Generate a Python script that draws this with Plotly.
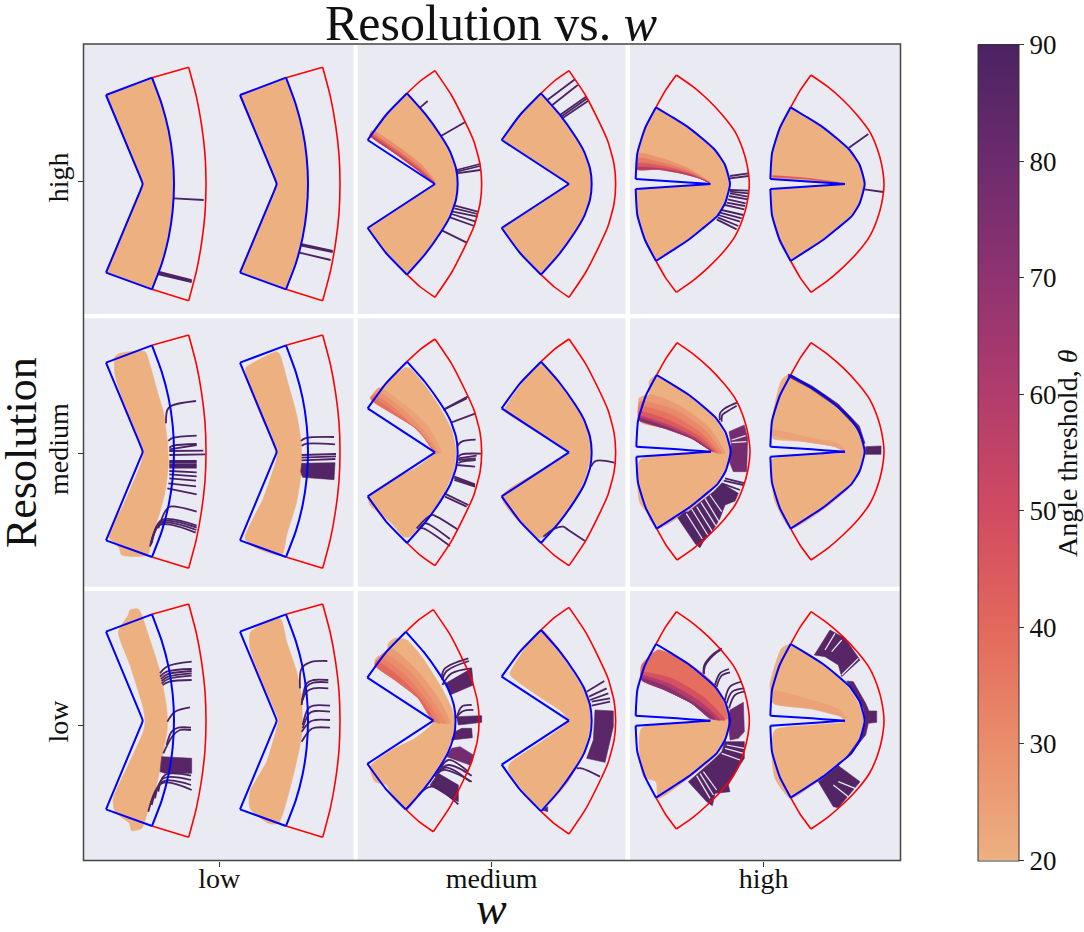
import plotly.graph_objects as go
from plotly.colors import sample_colorscale
from plotly.subplots import make_subplots

WIDTH, HEIGHT = 1084, 932

rows_res = ["high", "medium", "low"]
cols_w = ["low", "medium", "high"]
theta_ticks = [20, 30, 40, 50, 60, 70, 80, 90]
flare = ["#edb081", "#e98d6b", "#e3685c", "#d14a61", "#b13c6c", "#8f3371", "#6c2b6d", "#4b2362"]

# outlines, relative to the notch tip of each shape, one list per smooth stretch
red_low = [[(28, -319), (138, -350)],
           [(138, -350), (161, -263), (177, -175), (187, -88), (190, 0), (187, 88), (177, 175), (161, 263), (138, 350)],
           [(138, 350), (28, 316)]]
blue_low = [[(-110, -267), (28, -319)],
            [(28, -319), (57, -240), (78, -160), (90, -80), (94, 0), (90, 80), (78, 160), (57, 240), (28, 316)],
            [(28, 316), (-110, 266)],
            [(-110, 266), (-8, 22), (0, 0), (-8, -22), (-110, -267)]]
red_med = [[(-84, -272), (-44, -309), (0, -340)],
           [(0, -340), (49, -267), (90, -187), (117, -127), (135, -60), (140, 0), (135, 60), (117, 127), (90, 187), (49, 267), (0, 340)],
           [(0, 340), (-44, 309), (-84, 272)]]
blue_med = [[(-202, -132), (-147, -207), (-84, -272)],
            [(-84, -272), (-30, -211), (18, -144), (45, -98), (63, -47), (68, 0), (63, 47), (45, 98), (18, 144), (-30, 211), (-84, 272)],
            [(-84, 272), (-147, 207), (-202, 132)],
            [(-202, 132), (0, 0)],
            [(0, 0), (-202, -132)]]
red_high = [[(-163, -230), (-135, -280), (-102, -327)],
            [(-102, -327), (-52, -292), (-6, -252), (38, -205), (74, -157), (97, -105), (110, -58), (117, 0), (110, 58), (97, 105), (74, 157), (38, 205), (-6, 250), (-52, 290), (-102, 325)],
            [(-102, 325), (-135, 280), (-163, 231)]]
blue_high = [[(-224, -15), (-219, -92), (-196, -167), (-163, -230)],
             [(-163, -230), (-115, -201), (-66, -170), (-25, -137), (14, -102), (44, -57), (59, 0), (44, 58), (19, 98), (-25, 135), (-66, 168), (-115, 200), (-163, 231)],
             [(-163, 231), (-196, 168), (-219, 93), (-224, 15)],
             [(-224, 15), (-100, 7), (-30, 2), (0, 0)],
             [(0, 0), (-30, -2), (-100, -7), (-224, -15)]]

# orange regions, panel crop units
orange_hm_a = [(45, 285), (93, 225), (156, 160), (210, 221), (258, 288), (285, 334), (303, 385), (308, 432), (303, 479), (285, 530), (258, 576), (210, 643), (156, 704), (93, 639), (38, 563), (240, 432), (190, 392), (120, 340)]
orange_hh_a = [(36, 388), (38, 340), (60, 265), (93, 202), (141, 231), (190, 262), (231, 295), (270, 330), (300, 375), (315, 432), (300, 490), (275, 530), (231, 567), (190, 600), (141, 632), (93, 663), (60, 600), (37, 525), (32, 447), (150, 439), (226, 434), (256, 432), (225, 415), (170, 400), (100, 388)]
orange_ml_a = [(105, 125), (120, 115), (195, 110), (210, 150), (235, 240), (250, 290), (262, 380), (265, 450), (255, 530), (240, 590), (215, 670), (203, 720), (125, 720), (118, 700), (100, 680), (85, 665), (130, 570), (185, 440), (190, 410), (180, 380), (130, 260), (105, 180)]
orange_ml_b = [(500, 155), (590, 110), (600, 120), (620, 190), (650, 300), (663, 380), (665, 460), (650, 560), (620, 660), (605, 720), (530, 700), (495, 670), (550, 550), (590, 430), (590, 405), (550, 320), (500, 190), (497, 160)]
orange_mm_a = [(150, 158), (165, 160), (205, 205), (250, 270), (290, 345), (303, 410), (295, 470), (262, 545), (215, 610), (165, 665), (145, 665), (110, 625), (55, 580), (45, 570), (40, 545), (110, 495), (180, 460), (238, 412), (190, 345), (120, 300), (50, 258), (45, 245), (55, 240), (80, 215)]
orange_mm_b = [(450, 280), (560, 145), (640, 240), (700, 345), (708, 412), (690, 490), (640, 590), (555, 670), (440, 545), (640, 415), (620, 395), (450, 290)]
orange_mh_a = [(75, 195), (95, 180), (180, 235), (260, 295), (310, 380), (315, 410), (310, 440), (275, 510), (200, 580), (100, 640), (75, 615), (70, 600), (45, 565), (40, 540), (45, 435), (250, 412), (258, 410), (200, 370), (120, 340), (45, 320), (42, 250), (55, 243), (72, 240), (72, 205)]
orange_mh_b = [(445, 290), (470, 195), (490, 180), (600, 240), (680, 310), (715, 380), (718, 410), (710, 450), (670, 520), (600, 580), (497, 640), (450, 560), (440, 500), (440, 435), (560, 420), (660, 412), (630, 395), (540, 380), (445, 372), (440, 360)]
orange_ll_a = [(145, 90), (150, 75), (175, 72), (185, 90), (205, 150), (240, 260), (260, 370), (262, 430), (250, 500), (225, 620), (200, 690), (185, 730), (155, 737), (148, 715), (105, 680), (100, 640), (140, 550), (190, 440), (195, 410), (190, 370), (150, 240), (115, 140)]
orange_ll_b = [(512, 140), (600, 100), (620, 170), (650, 260), (665, 340), (665, 450), (640, 570), (595, 715), (565, 715), (510, 670), (510, 620), (560, 530), (590, 430), (595, 405), (550, 300), (510, 190)]
orange_lm_a = [(60, 225), (70, 213), (95, 215), (100, 175), (120, 160), (155, 165), (200, 215), (255, 300), (290, 370), (300, 410), (290, 470), (250, 550), (200, 620), (155, 675), (110, 635), (95, 600), (60, 590), (45, 545), (110, 495), (180, 460), (235, 410), (190, 340), (120, 285), (60, 240)]
orange_lm_b = [(465, 265), (560, 135), (640, 240), (700, 340), (708, 407), (690, 490), (640, 590), (560, 670), (460, 555), (465, 535), (560, 470), (630, 420), (640, 407), (620, 380), (560, 340), (470, 275)]
orange_lh_a = [(50, 240), (60, 232), (93, 232), (97, 195), (190, 235), (270, 300), (310, 370), (315, 407), (308, 450), (265, 520), (190, 580), (100, 640), (93, 590), (55, 575), (50, 430), (250, 410), (256, 407), (200, 355), (120, 315), (50, 285)]
orange_lh_b = [(440, 340), (435, 300), (470, 190), (497, 178), (600, 240), (680, 320), (715, 385), (718, 407), (708, 450), (670, 510), (570, 595), (497, 640), (450, 580), (440, 500), (450, 435), (560, 420), (660, 410), (640, 390), (560, 370), (445, 355)]

# lower edge of the coloured fan, then its curves and angle thresholds
edge_hm_a = [(45, 287), (120, 340), (190, 392), (236, 428)]
fan_hm_a = [(30, [(50, 272), (130, 320), (200, 375), (240, 425)]),
            (40, [(47, 280), (125, 330), (195, 383), (238, 427)]),
            (55, [(46, 285), (122, 336), (192, 389), (237, 428)])]
edge_hh_a = [(36, 388), (100, 388), (170, 400), (225, 415), (252, 428)]
fan_hh_a = [(28, [(38, 340), (110, 355), (190, 385), (254, 426)]),
            (35, [(38, 355), (110, 368), (190, 392), (254, 428)]),
            (45, [(38, 370), (110, 378), (190, 398), (254, 428)]),
            (60, [(38, 382), (110, 386), (190, 402), (254, 428)])]
edge_hh_b = [(440, 408), (540, 414), (640, 428)]
fan_hh_b = [(45, [(440, 410), (540, 417), (640, 429)])]
edge_mm_a = [(48, 252), (120, 300), (190, 345), (238, 410)]
fan_mm_a = [(24, [(72, 218), (150, 270), (220, 335), (260, 415)]),
            (28, [(65, 228), (140, 280), (210, 350), (250, 415)]),
            (33, [(58, 238), (130, 290), (200, 360), (245, 415)]),
            (38, [(50, 247), (125, 296), (195, 352), (240, 414)])]
edge_mh_a = [(42, 315), (120, 340), (200, 370), (255, 405)]
fan_mh_a = [(26, [(72, 240), (160, 270), (250, 335), (300, 415)]),
            (31, [(45, 260), (150, 285), (240, 345), (290, 415)]),
            (37, [(44, 275), (140, 300), (230, 355), (280, 415)]),
            (45, [(43, 290), (130, 315), (225, 365), (272, 412)]),
            (58, [(42, 303), (125, 328), (215, 370), (265, 410)]),
            (75, [(42, 310), (122, 335), (205, 371), (260, 408)])]
edge_mh_b = [(440, 360), (540, 380), (630, 395), (660, 410)]
fan_mh_b = [(24, [(440, 345), (540, 365), (640, 385), (660, 405)])]
edge_lm_a = [(60, 240), (120, 285), (190, 340), (232, 405)]
fan_lm_a = [(26, [(105, 190), (180, 250), (250, 340), (285, 415)]),
            (30, [(85, 205), (165, 260), (235, 350), (272, 415)]),
            (34, [(75, 218), (150, 270), (225, 360), (255, 415)]),
            (40, [(65, 228), (135, 277), (205, 350), (240, 412)])]
edge_lh_a = [(50, 285), (120, 315), (200, 355), (256, 400)]
fan_lh_a = [(38, [(50, 240), (100, 195), (190, 235), (270, 300), (308, 400)]),
            (48, [(50, 262), (140, 280), (240, 340), (300, 405)]),
            (60, [(50, 272), (130, 295), (225, 350), (285, 405)]),
            (72, [(50, 280), (125, 305), (210, 355), (270, 402)])]
edge_lh_b = [(445, 355), (560, 372), (640, 392), (665, 400)]
fan_lh_b = [(24, [(445, 318), (540, 340), (640, 372), (665, 398)])]

# trajectories above the threshold
lines_hl_a = [[(282, 475), (371, 480)], [(235, 695), (335, 720)], [(235, 698), (335, 723)], [(233, 702), (335, 726)]]
lines_hl_b = [[(662, 612), (758, 633)], [(660, 616), (758, 636)], [(655, 637), (752, 660)]]
lines_hm_a = [[(195, 203), (218, 183)], [(258, 288), (332, 245)], [(305, 390), (375, 372)], [(306, 395), (375, 378)], [(306, 400), (375, 390)],
              [(300, 497), (368, 515)], [(298, 505), (368, 522)], [(294, 515), (368, 530)], [(290, 522), (362, 545)], [(285, 532), (358, 558)], [(262, 572), (335, 608)]]
lines_hm_b = [[(577, 180), (660, 118)], [(592, 195), (668, 135)], [(615, 225), (693, 170)], [(618, 230), (697, 175)], [(622, 235), (700, 182)]]
lines_hh_a = [[(315, 408), (370, 400)], [(315, 415), (370, 408)], [(315, 450), (370, 452)], [(315, 455), (370, 460)], [(315, 460), (368, 470)],
              [(312, 468), (368, 478)], [(308, 478), (362, 490)], [(305, 488), (360, 498)], [(300, 495), (358, 508)], [(290, 510), (355, 525)],
              [(285, 518), (350, 535)], [(280, 525), (345, 545)], [(278, 532), (340, 558)], [(275, 538), (335, 568)]]
lines_hh_b = [[(672, 323), (730, 282)], [(718, 448), (775, 456)]]
lines_ml_a = [[(258, 325), (262, 285), (275, 272), (348, 258)], [(265, 378), (275, 370), (350, 362)], [(268, 398), (280, 392), (350, 387)], [(268, 403), (350, 390)],
              [(268, 408), (370, 407)], [(268, 420), (375, 418)], [(268, 438), (350, 438)], [(268, 443), (350, 443)], [(268, 448), (350, 448)], [(268, 453), (350, 453)],
              [(268, 458), (350, 458)], [(268, 468), (350, 472)], [(268, 478), (350, 484)], [(268, 490), (348, 497)], [(265, 505), (348, 514)], [(262, 520), (350, 538)],
              [(235, 640), (255, 590), (270, 575), (350, 590)], [(215, 680), (245, 615), (350, 632)], [(215, 685), (245, 620), (350, 638)],
              [(212, 690), (243, 625), (349, 645)], [(210, 695), (240, 630), (347, 653)]]
lines_ml_b = [[(663, 378), (675, 370), (762, 366)], [(665, 392), (680, 386), (765, 388)], [(665, 420), (768, 417)], [(665, 428), (768, 424)], [(665, 436), (766, 432)]]
blocks_ml_b = [(88, [(665, 445), (765, 443), (762, 494), (668, 487), (662, 470)])]
lines_mm_a = [[(268, 282), (338, 245)], [(265, 285), (335, 250)], [(290, 322), (362, 295)], [(308, 392), (320, 380), (362, 374)], [(310, 425), (320, 418), (378, 416)],
              [(310, 430), (365, 422)], [(310, 435), (362, 430)], [(310, 445), (320, 440), (362, 435)], [(305, 450), (360, 455)], [(298, 485), (360, 508)],
              [(298, 490), (360, 512)], [(298, 495), (360, 515)], [(268, 535), (340, 570)], [(270, 545), (335, 575)], [(185, 640), (230, 600), (245, 605), (307, 643)],
              [(190, 645), (210, 625), (225, 630), (285, 672)], [(195, 640), (205, 640), (285, 693)]]
lines_mm_b = [[(708, 455), (722, 438), (778, 443)], [(565, 665), (600, 640), (625, 635), (640, 645), (690, 678)]]
lines_mh_a = [[(285, 315), (285, 295), (300, 280), (338, 262)], [(290, 320), (292, 300), (305, 290), (335, 272)],
              [(300, 490), (360, 505)], [(296, 497), (355, 510)], [(290, 505), (345, 525)]]
blocks_mh_a = [(78, [(312, 350), (358, 330), (368, 370), (365, 470), (325, 470), (313, 440), (318, 385)]),
               (88, [(158, 608), (178, 592), (190, 590), (268, 528), (290, 505), (340, 535), (330, 558), (300, 570), (284, 612), (258, 655), (235, 680), (225, 698), (212, 688)])]
gaps_mh_a = [[(320, 375), (362, 362)], [(320, 383), (364, 380)], [(184, 596), (232, 672)], [(200, 582), (248, 660)], [(215, 575), (262, 650)], [(228, 562), (272, 632)], [(240, 550), (282, 620)], [(255, 540), (290, 590)]]
blocks_mh_b = [(88, [(722, 395), (768, 393), (768, 418), (722, 418)]),
               (90, [(490, 177), (560, 212), (640, 267), (703, 333), (720, 385), (714, 385), (695, 338), (635, 275), (555, 220), (490, 185)])]
lines_ll_a = [[(240, 265), (260, 245), (335, 230)], [(240, 275), (260, 260), (335, 252)], [(243, 282), (262, 268), (335, 258)], [(245, 288), (265, 275), (335, 265)],
              [(245, 295), (265, 282), (335, 272)], [(248, 300), (268, 290), (335, 285)], [(262, 410), (285, 380), (330, 367)], [(260, 480), (275, 440), (295, 428), (333, 428)],
              [(250, 505), (280, 450), (300, 435), (333, 435)], [(235, 620), (255, 570), (333, 572)], [(225, 640), (250, 580), (333, 585)], [(215, 660), (248, 590), (333, 600)], [(205, 680), (245, 595), (335, 615)]]
blocks_ll_a = [(86, [(245, 515), (335, 520), (335, 565), (255, 565), (240, 560)])]
lines_ll_b = [[(660, 310), (665, 250), (690, 232), (742, 228)], [(665, 360), (680, 295), (700, 285), (745, 285)], [(665, 355), (680, 305), (700, 293), (745, 292)], [(668, 345), (680, 320), (700, 310), (745, 310)],
              [(668, 420), (685, 370), (700, 362), (750, 362)], [(668, 430), (688, 385), (705, 378), (750, 380)], [(665, 440), (690, 410), (705, 405), (750, 405)], [(665, 470), (690, 435), (705, 428), (750, 428)]]
lines_lm_a = [[(260, 275), (270, 250), (340, 220)], [(262, 285), (275, 258), (342, 228)], [(262, 300), (290, 265), (350, 250)], [(305, 400), (320, 365), (350, 360)], [(305, 395), (325, 378), (355, 375)],
              [(255, 555), (280, 525), (340, 560)], [(250, 560), (280, 540), (350, 572)], [(240, 575), (265, 555), (350, 590)], [(245, 565), (275, 548), (345, 590)], [(190, 630), (230, 605), (310, 658)]]
blocks_lm_a = [(86, [(272, 295), (350, 250), (355, 300), (285, 330)]), (88, [(305, 395), (380, 392), (380, 412), (310, 420)]), (86, [(300, 440), (320, 430), (350, 430), (352, 458), (290, 465)]),
               (78, [(290, 490), (315, 485), (355, 510), (345, 540), (275, 515)]), (88, [(225, 600), (250, 565), (310, 600), (310, 650), (290, 640)])]
lines_lm_b = [[(695, 320), (748, 288)], [(702, 335), (755, 310)], [(705, 345), (760, 325)], [(710, 350), (765, 340)], [(710, 362), (765, 350)], [(665, 550), (680, 550), (735, 575)]]
blocks_lm_b = [(85, [(695, 520), (715, 465), (720, 375), (775, 378), (775, 425), (750, 532)]), (88, [(562, 675), (578, 665), (578, 680)])]
lines_lh_a = [[(235, 265), (238, 240), (262, 210), (290, 190)], [(237, 268), (240, 243), (264, 212), (290, 192)], [(270, 300), (285, 265), (312, 252)], [(275, 305), (290, 272), (315, 262)],
              [(300, 345), (315, 305), (350, 290)], [(305, 355), (322, 320), (358, 310)], [(312, 370), (330, 330), (358, 320)]]
blocks_lh_a = [(80, [(315, 375), (355, 352), (358, 440), (340, 460), (315, 465), (310, 400)]),
               (87, [(300, 470), (358, 470), (358, 520), (345, 540), (310, 600), (315, 620), (270, 625), (262, 662), (245, 650), (190, 590), (265, 525), (290, 500)])]
gaps_lh_a = [[(305, 480), (358, 490)], [(300, 490), (355, 505)], [(290, 505), (345, 525)], [(225, 565), (265, 630)], [(235, 560), (275, 615)], [(215, 572), (255, 640)]]
blocks_lh_b = [(86, [(568, 210), (615, 135), (660, 160), (705, 225), (650, 275), (640, 240), (600, 215)]),
               (86, [(665, 288), (685, 290), (722, 355), (732, 378), (755, 378), (755, 412), (730, 415), (722, 450), (670, 515), (660, 522), (705, 460), (722, 410), (715, 370)]),
               (88, [(580, 590), (640, 542), (705, 590), (640, 668), (625, 665)])]
gaps_lh_b = [[(600, 195), (630, 145)], [(620, 200), (650, 165)], [(650, 270), (700, 220)], [(640, 590), (690, 610)], [(625, 600), (670, 635)]]

# row, col, outline pair, tip x, tip y, size, orange, fan edge, fan, lines, blocks, gaps
shapes = [
    (1, 1, red_low, blue_low, 188, 432, 1, None, None, [], lines_hl_a, [], []),
    (1, 1, red_low, blue_low, 590, 432, 1, None, None, [], lines_hl_b, [], []),
    (1, 2, red_med, blue_med, 240, 432, 1, orange_hm_a, edge_hm_a, fan_hm_a, lines_hm_a, [], []),
    (1, 2, red_med, blue_med, 642, 432, 1, None, None, [], lines_hm_b, [], []),
    (1, 3, red_high, blue_high, 256, 432, 1, orange_hh_a, edge_hh_a, fan_hh_a, lines_hh_a, [], []),
    (1, 3, red_high, blue_high, 660, 432, 1, None, edge_hh_b, fan_hh_b, lines_hh_b, [], []),
    (2, 1, red_low, blue_low, 188, 410, 1, orange_ml_a, None, [], lines_ml_a, [], []),
    (2, 1, red_low, blue_low, 590, 410, 1, orange_ml_b, None, [], lines_ml_b, blocks_ml_b, []),
    (2, 2, red_med, blue_med, 240, 412, 1, orange_mm_a, edge_mm_a, fan_mm_a, lines_mm_a, [], []),
    (2, 2, red_med, blue_med, 642, 412, 1, orange_mm_b, None, [], lines_mm_b, [], []),
    (2, 3, red_high, blue_high, 258, 410, 1, orange_mh_a, edge_mh_a, fan_mh_a, lines_mh_a, blocks_mh_a, gaps_mh_a),
    (2, 3, red_high, blue_high, 660, 410, 1, orange_mh_b, edge_mh_b, fan_mh_b, [], blocks_mh_b, []),
    (3, 1, red_low, blue_low, 188, 407, 1, orange_ll_a, None, [], lines_ll_a, blocks_ll_a, []),
    (3, 1, red_low, blue_low, 590, 407, 1, orange_ll_b, None, [], lines_ll_b, [], []),
    (3, 2, red_med, blue_med, 235, 407, 0.98, orange_lm_a, edge_lm_a, fan_lm_a, lines_lm_a, blocks_lm_a, []),
    (3, 2, red_med, blue_med, 642, 407, 1, orange_lm_b, None, [], lines_lm_b, blocks_lm_b, []),
    (3, 3, red_high, blue_high, 256, 407, 1, orange_lh_a, edge_lh_a, fan_lh_a, lines_lh_a, blocks_lh_a, gaps_lh_a),
    (3, 3, red_high, blue_high, 660, 407, 1, orange_lh_b, edge_lh_b, fan_lh_b, [], blocks_lh_b, gaps_lh_b),
]

BG = "#eaebf2"
INK = "#111111"
FONT = "Liberation Serif"

# panel edges on the page, and where each panel's own units start
col_px = [(83.5, 353.5), (357.7, 625.3), (630, 900.5)]
row_px = [(44.5, 314), (318.3, 586.7), (591, 860.5)]
col_origin = [80, 355, 625]
row_origin = [40, 315, 585]
x_tick = [418, 410, 416]
y_tick = [425, 415, 422]

scale = [[i / 7, c] for i, c in enumerate(flare)]


def theta_colour(t):
    return sample_colorscale(scale, (t - 20) / 70)[0]


def xy(points):
    return [p[0] for p in points], [p[1] for p in points]


def area(fig, points, colour, row, col, smooth=False):
    x, y = xy(points)
    line = dict(color=colour, width=0.6)
    if smooth:
        line.update(shape="spline", smoothing=0.6)
    fig.add_trace(go.Scatter(x=x + x[:1], y=y + y[:1], mode="lines", fill="toself", fillcolor=colour,
                             line=line, hoverinfo="skip", showlegend=False), row=row, col=col)


def path(fig, points, colour, width, row, col, smooth=False, smoothing=1.0):
    x, y = xy(points)
    line = dict(color=colour, width=width)
    if smooth:
        line.update(shape="spline", smoothing=smoothing)
    fig.add_trace(go.Scatter(x=x, y=y, mode="lines", line=line, hoverinfo="skip", showlegend=False), row=row, col=col)


fig = make_subplots(rows=3, cols=3)

for row, col, red, blue, tip_x, tip_y, size, orange, edge, fan, lines, blocks, gaps in shapes:
    red_abs = [[(tip_x + size * x, tip_y + size * y) for x, y in part] for part in red]
    blue_abs = [[(tip_x + size * x, tip_y + size * y) for x, y in part] for part in blue]
    blue_ring = [p for part in blue_abs for p in part]
    area(fig, orange if orange else blue_ring, theta_colour(20), row, col, smooth=bool(orange) and row > 1)
    for t, curve in fan:
        area(fig, curve + edge[::-1], theta_colour(t), row, col, smooth=True)
    for t, block in blocks:
        area(fig, block, theta_colour(t), row, col)
    for gap in gaps:
        path(fig, gap, BG, 1.2, row, col)
    for line in lines:
        path(fig, line, theta_colour(90), 1.8, row, col, smooth=True)
    for part in red_abs:
        path(fig, part, "#ff0000", 1.6, row, col, smooth=True, smoothing=0.5)
    for part in blue_abs:
        path(fig, part, "#0000ff", 2, row, col, smooth=True, smoothing=0.5)

# empty trace that carries the colour bar
fig.add_trace(go.Scatter(x=[None], y=[None], mode="markers", showlegend=False,
                         marker=dict(color=[20, 90], coloraxis="coloraxis")), row=1, col=1)

for r in range(3):
    for c in range(3):
        x0, x1 = col_px[c]
        y0, y1 = row_px[r]
        fig.update_xaxes(row=r + 1, col=c + 1, domain=[x0 / WIDTH, x1 / WIDTH],
                         range=[(x0 - col_origin[c]) * 3, (x1 - col_origin[c]) * 3],
                         showgrid=False, zeroline=False, showline=False,
                         tickmode="array", tickvals=[x_tick[c]] if r == 2 else [], ticktext=[cols_w[c]],
                         ticks="outside" if r == 2 else "", ticklen=5, tickcolor="#333333", ticklabelstandoff=-12,
                         tickfont=dict(family=FONT, size=28, color=INK))
        fig.update_yaxes(row=r + 1, col=c + 1, domain=[1 - y1 / HEIGHT, 1 - y0 / HEIGHT],
                         range=[(y1 - row_origin[r]) * 3, (y0 - row_origin[r]) * 3],
                         showgrid=False, zeroline=False, showline=False,
                         tickmode="array", tickvals=[y_tick[r]] if c == 0 else [], ticktext=[rows_res[r]],
                         ticks="outside" if c == 0 else "", ticklen=5, tickcolor="#333333", tickangle=-90, ticklabelstandoff=-2,
                         tickfont=dict(family=FONT, size=28, color=INK))

fig.update_layout(
    width=WIDTH, height=HEIGHT, margin=dict(l=0, r=0, t=0, b=0),
    paper_bgcolor="white", plot_bgcolor=BG,
    font=dict(family=FONT, color=INK),
    title=dict(text="Resolution vs. <i>w</i>", x=491 / WIDTH, xanchor="center", y=1 - 22 / HEIGHT, yanchor="middle",
               font=dict(family=FONT, size=50, color=INK)),
    coloraxis=dict(cmin=20, cmax=90, colorscale=scale,
                   colorbar=dict(x=978.4 / WIDTH, xanchor="left", xpad=0, y=1 - 860.5 / HEIGHT, yanchor="bottom", ypad=0,
                                 thickness=40.6, thicknessmode="pixels", len=816 / HEIGHT, lenmode="fraction",
                                 tickmode="array", tickvals=theta_ticks, ticks="outside", ticklen=5, tickcolor="#333333",
                                 tickfont=dict(family=FONT, size=27, color=INK), outlinewidth=1, outlinecolor="#333333")),
    annotations=[
        dict(text="Resolution", x=21 / WIDTH, y=1 - 453 / HEIGHT, xref="paper", yref="paper", textangle=-90, showarrow=False,
             xanchor="center", yanchor="middle", font=dict(family=FONT, size=44, color=INK)),
        dict(text="<i>w</i>", x=491 / WIDTH, y=1 - 908 / HEIGHT, xref="paper", yref="paper", showarrow=False,
             xanchor="center", yanchor="middle", font=dict(family=FONT, size=46, color=INK)),
        dict(text="Angle threshold, <i>θ</i>", x=1067 / WIDTH, y=1 - 453 / HEIGHT, xref="paper", yref="paper", textangle=-90, showarrow=False,
             xanchor="center", yanchor="middle", font=dict(family=FONT, size=28, color=INK)),
    ],
    shapes=[dict(type="rect", xref="paper", yref="paper", x0=83.5 / WIDTH, x1=900.5 / WIDTH, y0=1 - 860.5 / HEIGHT, y1=1 - 44 / HEIGHT,
                 line=dict(color="#444444", width=1.5), layer="above")],
)

fig.write_html("out.html", post_script="document.body.style.margin='0';", config=dict(displayModeBar=False))
